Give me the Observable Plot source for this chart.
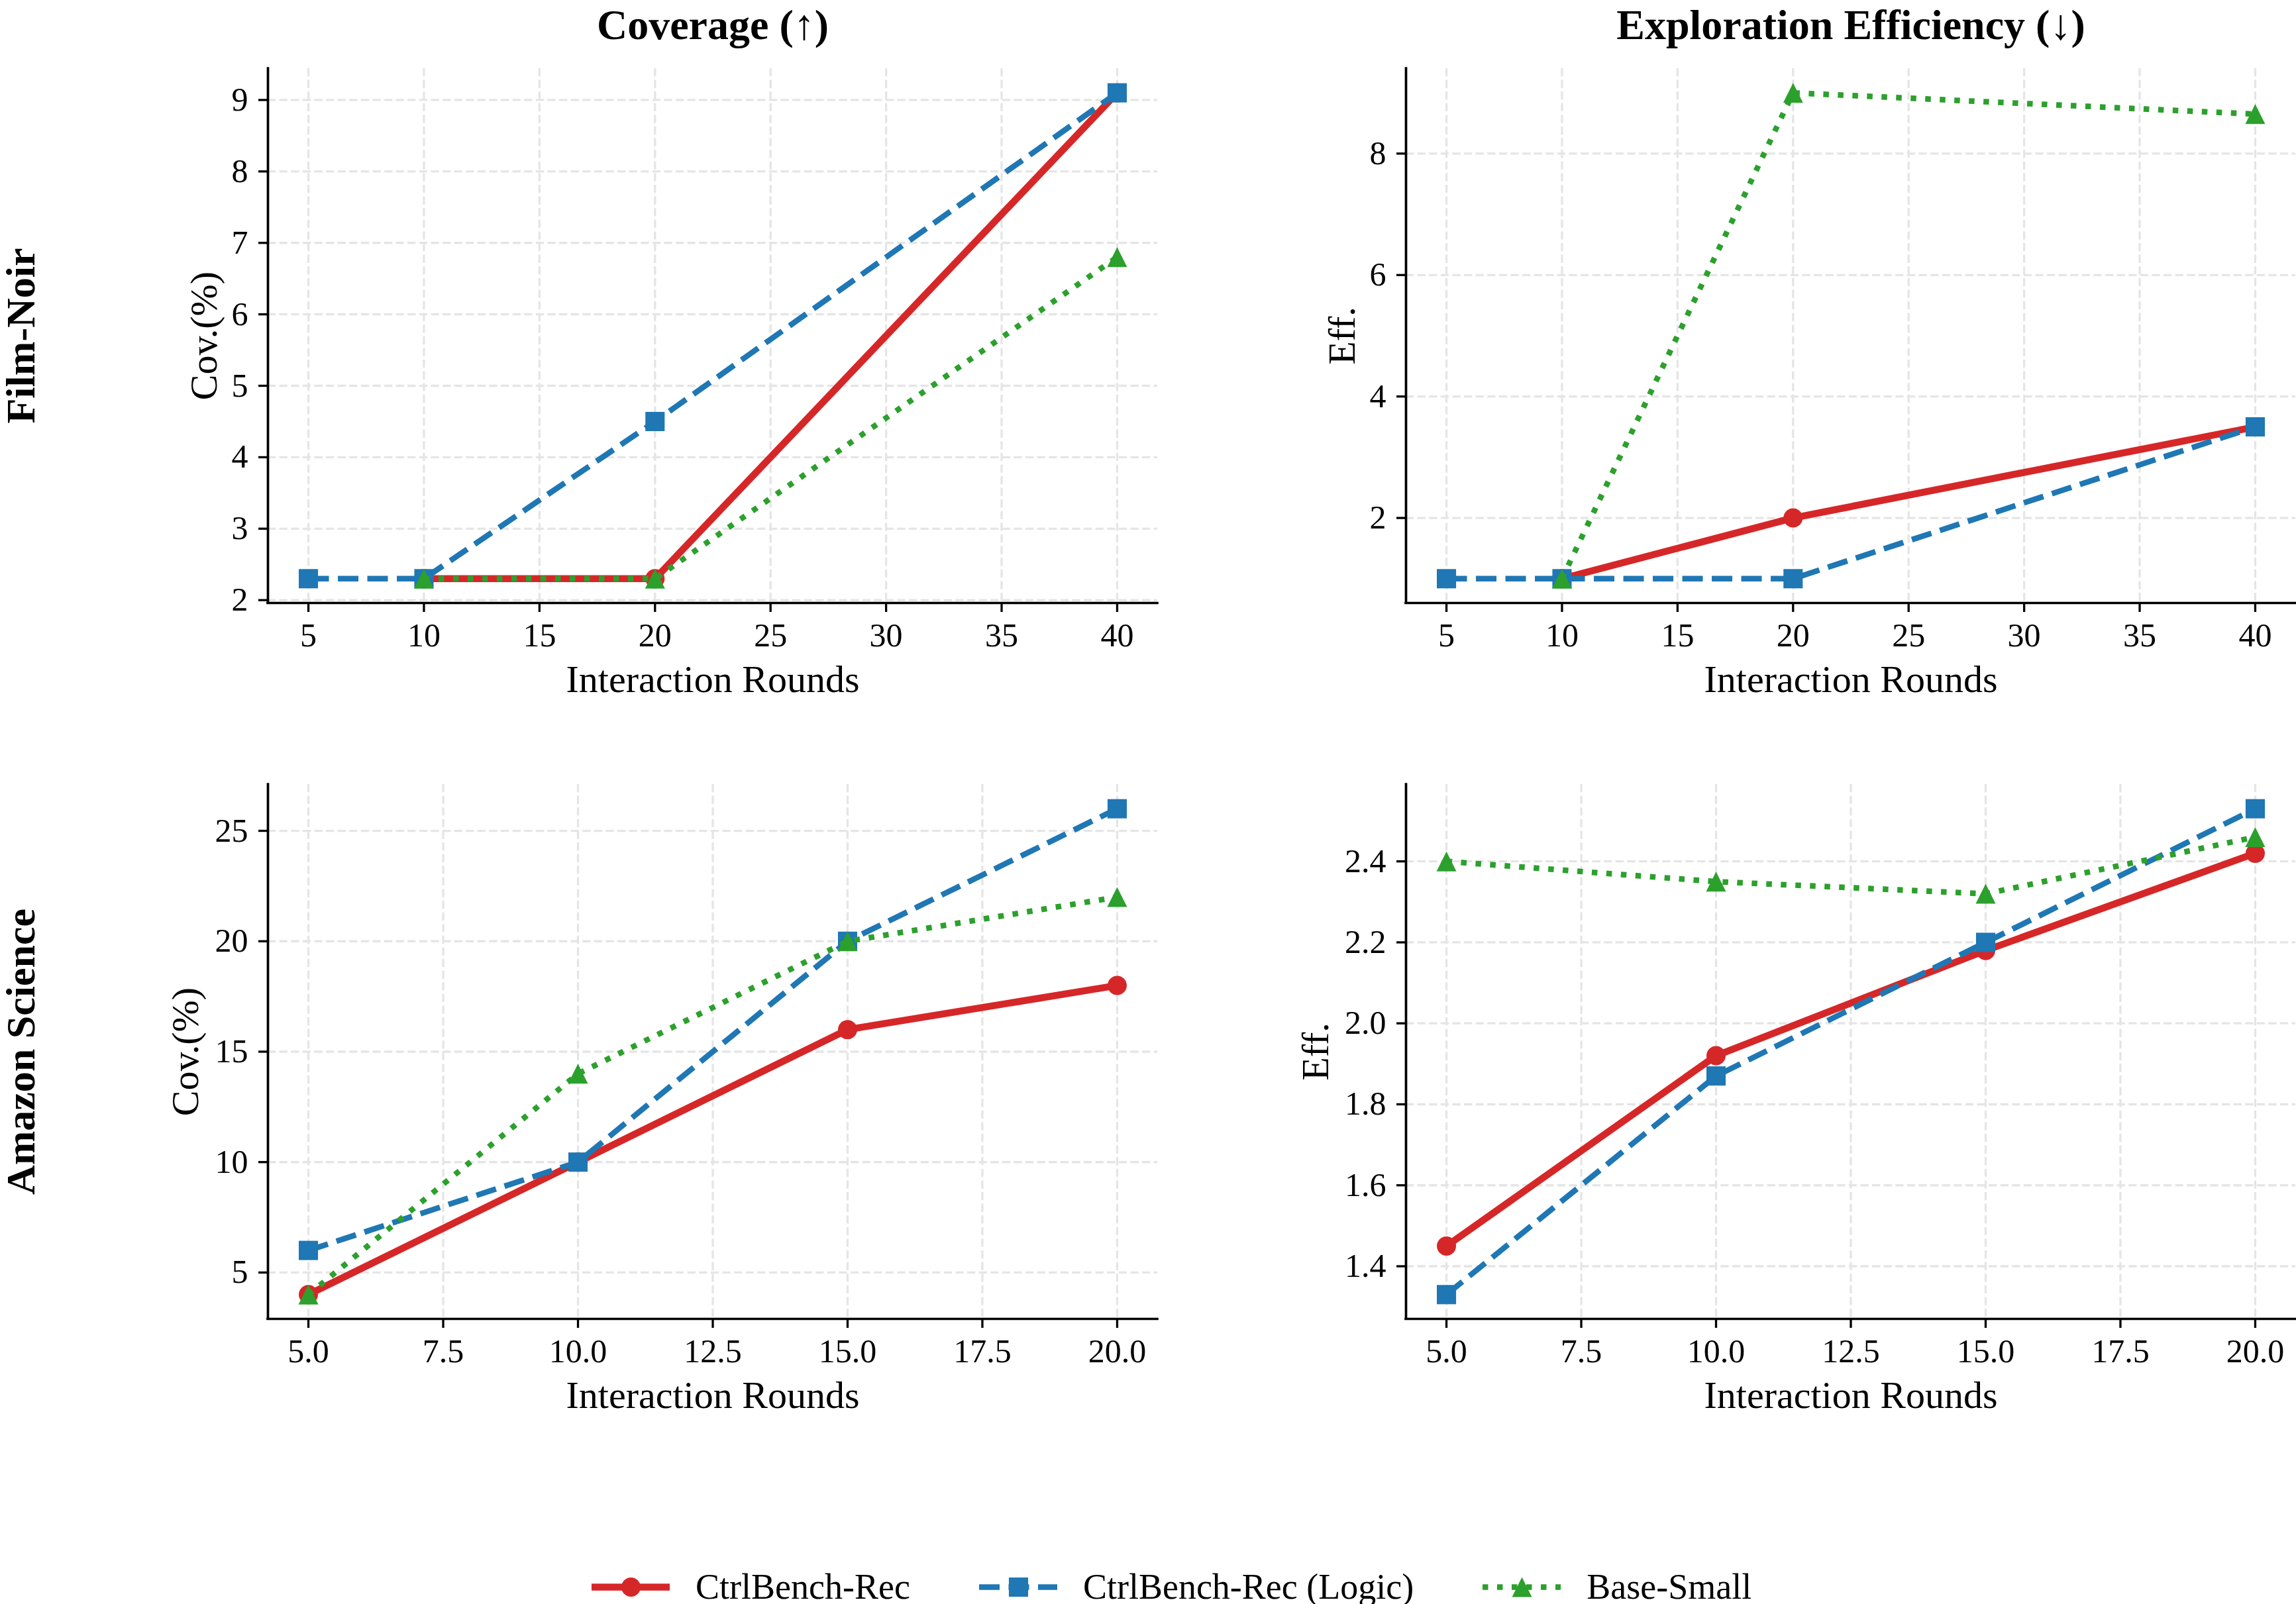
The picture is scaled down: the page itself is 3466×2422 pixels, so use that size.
<!DOCTYPE html>
<html>
<head>
<meta charset="utf-8">
<script src="https://cdn.jsdelivr.net/npm/d3@7"></script>
<script src="https://cdn.jsdelivr.net/npm/@observablehq/plot@0.6"></script>
<style>
  html, body { margin: 0; padding: 0; background: #fff; overflow: hidden; }
  #chart { position: relative; width: 3466px; height: 2422px; font-family: "Liberation Serif", "Times New Roman", serif; color: #000; }
  .legend { position: absolute; left: 893px; top: 2376px; height: 40px; display: flex; align-items: center; gap: 104px; font-size: 54px; }
  .legend .item { display: flex; align-items: center; }
  .legend .item span { margin-left: 39px; line-height: 1; white-space: nowrap; }
</style>
</head>
<body>
<div id="chart"></div>
<script>
// ---- data ----
const seriesNames = ["CtrlBench-Rec", "CtrlBench-Rec (Logic)", "Base-Small"];
const colTitles = ["Coverage (\u2191)", "Exploration Efficiency (\u2193)"];
const rowLabels = ["Film-Noir", "Amazon Science"];
const yLabels = ["Cov.(%)", "Eff."];
const xLabel = "Interaction Rounds";

const filmRounds = [5, 10, 20, 40];
const amazonRounds = [5, 10, 15, 20];

// Film-Noir: coverage (%)
const filmCovRec   = [null, 2.3, 2.3, 9.1];
const filmCovLogic = [2.3, 2.3, 4.5, 9.1];
const filmCovBase  = [null, 2.3, 2.3, 6.8];
// Film-Noir: exploration efficiency
const filmEffRec   = [null, 1.0, 2.0, 3.5];
const filmEffLogic = [1.0, 1.0, 1.0, 3.5];
const filmEffBase  = [null, 1.0, 9.0, 8.65];
// Amazon Science: coverage (%)
const amazonCovRec   = [4, 10, 16, 18];
const amazonCovLogic = [6, 10, 20, 26];
const amazonCovBase  = [4, 14, 20, 22];
// Amazon Science: exploration efficiency
const amazonEffRec   = [1.45, 1.92, 2.18, 2.42];
const amazonEffLogic = [1.33, 1.87, 2.20, 2.53];
const amazonEffBase  = [2.40, 2.35, 2.32, 2.46];

// tick values
const filmRoundTicks = [5, 10, 15, 20, 25, 30, 35, 40];
const amazonRoundTicks = [5, 7.5, 10, 12.5, 15, 17.5, 20];
const filmCovTicks = [2, 3, 4, 5, 6, 7, 8, 9];
const filmEffTicks = [2, 4, 6, 8];
const amazonCovTicks = [5, 10, 15, 20, 25];
const amazonEffTicks = [1.4, 1.6, 1.8, 2.0, 2.2, 2.4];

// ---- styles ----
// upward triangle centred on its bounding box
const triangleUp = {
  draw(context, size) {
    const r = Math.sqrt(size / Math.PI);
    context.moveTo(0, -r);
    context.lineTo(r, r);
    context.lineTo(-r, r);
    context.closePath();
  }
};
const seriesStyle = [
  {stroke: "#d62728", strokeWidth: 10.5, dash: null, cap: "square", symbol: "circle", r: 14.5},
  {stroke: "#1f77b4", strokeWidth: 8.5, dash: "31,13.5", cap: "butt", symbol: "square", r: 16.4},
  {stroke: "#2ca02c", strokeWidth: 8.5, dash: "8.5,13.5", cap: "butt", symbol: triangleUp, r: 15}
];

const FONT = "Liberation Serif, Times New Roman, serif";
const layout = {
  colLeft: [404, 2122],   // left edge of each column's plotting area
  rowTop: [103, 1184],    // top edge of each row's plotting area
  plotW: 1343,
  plotH: 807,
  marginLeft: 404,
  marginTop: 103,
  marginRight: 14,
  marginBottom: 175
};

// 5% padding around the data extent
function padded(values) {
  const [lo, hi] = d3.extent(values.filter(v => v != null));
  const m = (hi - lo) * 0.05;
  return [lo - m, hi + m];
}

function panel({row, col, rounds, values, xTicks, yTicks, xFormat, yFormat, yLabelGap}) {
  const xDomain = padded(rounds);
  const yDomain = padded(values.flat());
  const gridStyle = {stroke: "#e5e5e5", strokeOpacity: 1, strokeWidth: 3.3, strokeDasharray: "12.3,5.3"};
  const marks = [
    Plot.gridX({ticks: xTicks, ...gridStyle}),
    Plot.gridY({ticks: yTicks, ...gridStyle})
  ];
  values.forEach((ys, i) => {
    const s = seriesStyle[i];
    const pts = rounds.map((x, j) => ({x, y: ys[j]})).filter(d => d.y != null);
    marks.push(Plot.line(pts, {
      x: "x", y: "y", stroke: s.stroke, strokeWidth: s.strokeWidth,
      strokeDasharray: s.dash, strokeLinecap: s.cap, strokeLinejoin: "round"
    }));
    marks.push(Plot.dot(pts, {x: "x", y: "y", symbol: s.symbol, r: s.r, fill: s.stroke, stroke: "none"}));
  });
  // left and bottom spines
  marks.push(Plot.ruleX([xDomain[0]], {stroke: "#000", strokeWidth: 3.7, strokeLinecap: "square"}));
  marks.push(Plot.ruleY([yDomain[0]], {stroke: "#000", strokeWidth: 3.7, strokeLinecap: "square"}));
  marks.push(Plot.axisX({ticks: xTicks, tickFormat: xFormat, tickSize: 14, tickPadding: 16,
    strokeWidth: 3.3, fontSize: 50, label: null}));
  marks.push(Plot.axisY({ticks: yTicks, tickFormat: yFormat, tickSize: 14, tickPadding: 16,
    strokeWidth: 3.3, fontSize: 50, label: null}));
  // axis titles
  marks.push(Plot.text([xLabel], {frameAnchor: "bottom", dy: 134, lineAnchor: "bottom",
    textAnchor: "middle", fontSize: 58, text: d => d}));
  marks.push(Plot.text([yLabels[col]], {frameAnchor: "left", rotate: -90, dx: -yLabelGap,
    lineAnchor: "bottom", textAnchor: "middle", fontSize: 58, text: d => d}));
  if (row === 0) {
    marks.push(Plot.text([colTitles[col]], {frameAnchor: "top", dy: -45, lineAnchor: "bottom",
      textAnchor: "middle", fontSize: 64, fontWeight: "bold", text: d => d}));
  }
  if (col === 0) {
    marks.push(Plot.text([rowLabels[row]], {frameAnchor: "left", rotate: -90, dx: -353,
      lineAnchor: "bottom", textAnchor: "middle", fontSize: 62, fontWeight: "bold", text: d => d}));
  }

  const svg = Plot.plot({
    width: layout.marginLeft + layout.plotW + layout.marginRight,
    height: layout.marginTop + layout.plotH + layout.marginBottom,
    marginLeft: layout.marginLeft,
    marginTop: layout.marginTop,
    marginRight: layout.marginRight,
    marginBottom: layout.marginBottom,
    x: {domain: xDomain},
    y: {domain: yDomain},
    style: {fontFamily: FONT, fontSize: "50px", color: "#000", background: "transparent", overflow: "visible"},
    marks
  });
  svg.style.position = "absolute";
  svg.style.left = (layout.colLeft[col] - layout.marginLeft) + "px";
  svg.style.top = (layout.rowTop[row] - layout.marginTop) + "px";
  svg.style.maxWidth = "none";
  return svg;
}

const chart = document.getElementById("chart");
const intFmt = d3.format("d");
const oneDec = d3.format(".1f");

chart.append(panel({row: 0, col: 0, rounds: filmRounds,
  values: [filmCovRec, filmCovLogic, filmCovBase],
  xTicks: filmRoundTicks, yTicks: filmCovTicks, xFormat: intFmt, yFormat: intFmt, yLabelGap: 78}));
chart.append(panel({row: 0, col: 1, rounds: filmRounds,
  values: [filmEffRec, filmEffLogic, filmEffBase],
  xTicks: filmRoundTicks, yTicks: filmEffTicks, xFormat: intFmt, yFormat: intFmt, yLabelGap: 78}));
chart.append(panel({row: 1, col: 0, rounds: amazonRounds,
  values: [amazonCovRec, amazonCovLogic, amazonCovBase],
  xTicks: amazonRoundTicks, yTicks: amazonCovTicks, xFormat: oneDec, yFormat: intFmt, yLabelGap: 106}));
chart.append(panel({row: 1, col: 1, rounds: amazonRounds,
  values: [amazonEffRec, amazonEffLogic, amazonEffBase],
  xTicks: amazonRoundTicks, yTicks: amazonEffTicks, xFormat: oneDec, yFormat: oneDec, yLabelGap: 118}));

// legend: line-and-marker swatch followed by the series name
const legend = document.createElement("div");
legend.className = "legend";
seriesNames.forEach((name, i) => {
  const s = seriesStyle[i];
  const item = document.createElement("div");
  item.className = "item";
  const swatch = Plot.plot({
    width: 118, height: 40, margin: 0,
    y: {domain: [-1, 1], axis: null},
    style: {background: "transparent", overflow: "visible"},
    marks: [
      Plot.ruleY([0], {stroke: s.stroke, strokeWidth: s.strokeWidth, strokeDasharray: s.dash, strokeLinecap: "butt"}),
      Plot.dot([0], {frameAnchor: "middle", symbol: s.symbol, r: s.r, fill: s.stroke, stroke: "none"})
    ]
  });
  swatch.style.display = "block";
  const label = document.createElement("span");
  label.textContent = name;
  item.append(swatch, label);
  legend.append(item);
});
chart.append(legend);
</script>
</body>
</html>
